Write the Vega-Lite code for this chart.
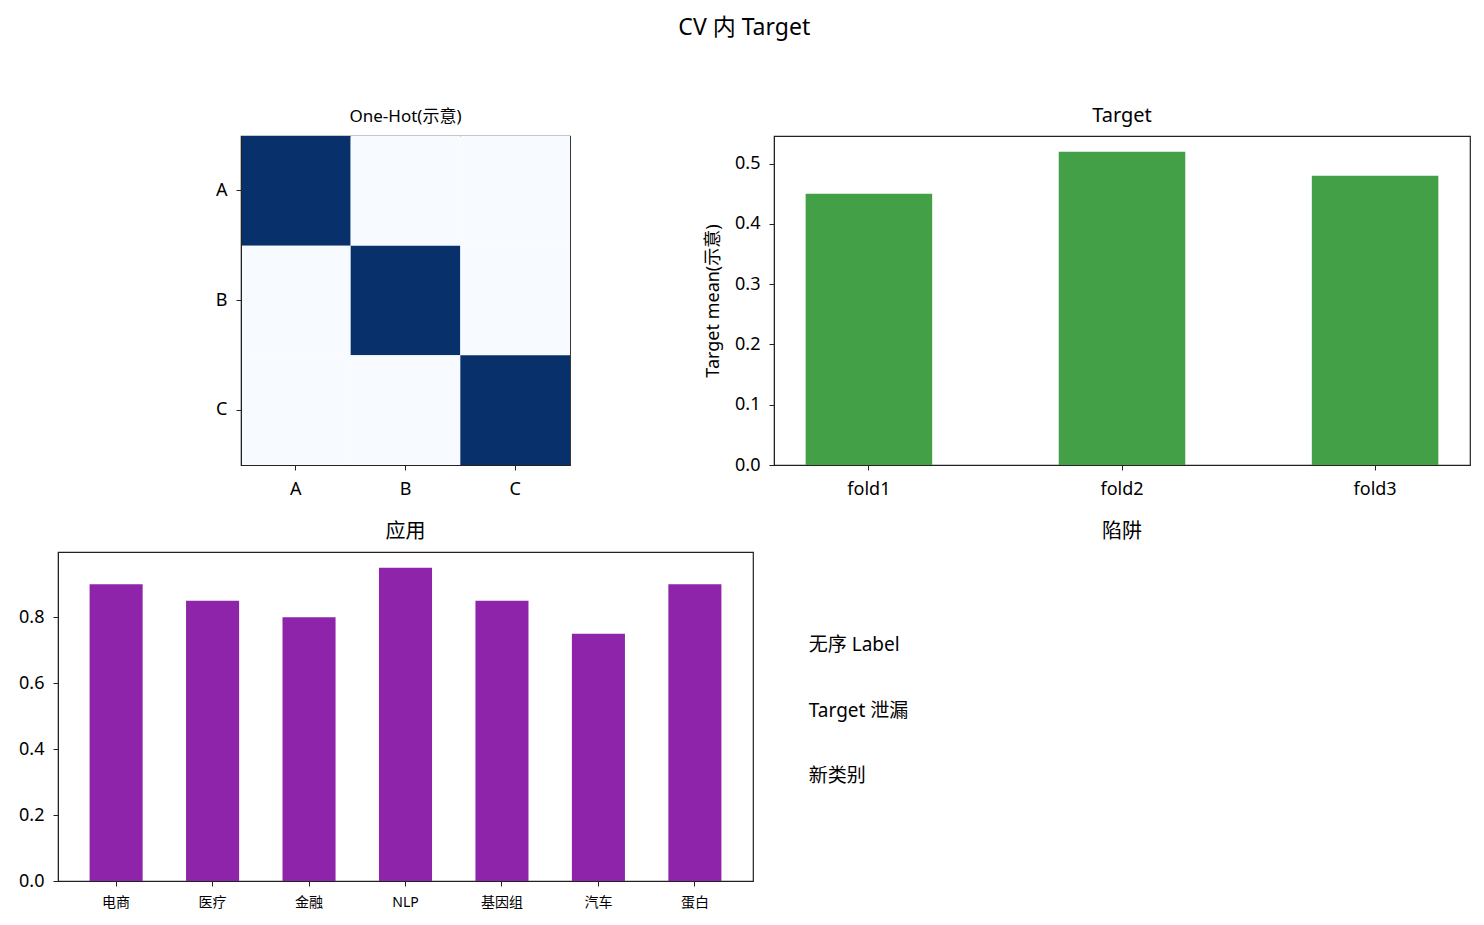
{
  "$schema": "https://vega.github.io/schema/vega-lite/v6.json",
  "padding": {"left": 17, "top": 17, "right": 12, "bottom": 5},
  "background": "white",
  "title": {
    "text": "CV 内 Target",
    "fontSize": 23,
    "fontWeight": "normal",
    "anchor": "middle",
    "color": "#000",
    "offset": 65
  },
  "columns": 2,
  "align": "each",
  "bounds": "flush",
  "center": true,
  "spacing": {"column": 21, "row": 87},
  "concat": [
    {
      "width": 329,
      "height": 329,
      "title": {"text": "One-Hot(示意)", "fontSize": 17, "offset": 10},
      "data": {
        "values": [
          {"row": "A", "col": "A", "v": 1},
          {"row": "A", "col": "B", "v": 0},
          {"row": "A", "col": "C", "v": 0},
          {"row": "B", "col": "A", "v": 0},
          {"row": "B", "col": "B", "v": 1},
          {"row": "B", "col": "C", "v": 0},
          {"row": "C", "col": "A", "v": 0},
          {"row": "C", "col": "B", "v": 0},
          {"row": "C", "col": "C", "v": 1}
        ]
      },
      "mark": {"type": "rect"},
      "encoding": {
        "x": {
          "field": "col",
          "type": "nominal",
          "scale": {"paddingInner": 0, "paddingOuter": 0},
          "axis": {"title": null, "labelAngle": 0, "labelPadding": 10}
        },
        "y": {
          "field": "row",
          "type": "nominal",
          "scale": {"paddingInner": 0, "paddingOuter": 0},
          "axis": {"title": null}
        },
        "color": {
          "field": "v",
          "type": "quantitative",
          "scale": {"domain": [0, 1], "range": ["#f7fbff", "#08306b"]},
          "legend": null
        }
      }
    },
    {
      "width": 696,
      "height": 329,
      "title": {"text": "Target", "fontSize": 20, "offset": 10},
      "data": {
        "values": [
          {"fold": "fold1", "mean": 0.45},
          {"fold": "fold2", "mean": 0.52},
          {"fold": "fold3", "mean": 0.48}
        ]
      },
      "mark": {"type": "bar", "color": "#43a047"},
      "encoding": {
        "x": {
          "field": "fold",
          "type": "nominal",
          "scale": {"paddingInner": 0.5, "paddingOuter": 0.125},
          "axis": {"title": null, "labelAngle": 0, "labelPadding": 10}
        },
        "y": {
          "field": "mean",
          "type": "quantitative",
          "scale": {"domain": [0, 0.546], "nice": false},
          "axis": {
            "title": "Target mean(示意)",
            "titlePadding": 12,
            "values": [0, 0.1, 0.2, 0.3, 0.4, 0.5],
            "format": ".1f"
          }
        }
      }
    },
    {
      "width": 695,
      "height": 329,
      "title": {"text": "应用", "fontSize": 20, "offset": 10},
      "data": {
        "values": [
          {"domain": "电商", "score": 0.9},
          {"domain": "医疗", "score": 0.85},
          {"domain": "金融", "score": 0.8},
          {"domain": "NLP", "score": 0.95},
          {"domain": "基因组", "score": 0.85},
          {"domain": "汽车", "score": 0.75},
          {"domain": "蛋白", "score": 0.9}
        ]
      },
      "mark": {"type": "bar", "color": "#8e24aa"},
      "encoding": {
        "x": {
          "field": "domain",
          "type": "nominal",
          "sort": null,
          "scale": {"paddingInner": 0.45, "paddingOuter": 0.3275},
          "axis": {"title": null, "labelAngle": 0, "labelFontSize": 14, "labelPadding": 9}
        },
        "y": {
          "field": "score",
          "type": "quantitative",
          "scale": {"domain": [0, 0.9975], "nice": false},
          "axis": {
            "title": null,
            "values": [0, 0.2, 0.4, 0.6, 0.8],
            "format": ".1f"
          }
        }
      }
    },
    {
      "width": 696,
      "height": 329,
      "view": {"stroke": null},
      "title": {"text": "陷阱", "fontSize": 20, "offset": 10},
      "data": {
        "values": [
          {"item": "无序 Label"},
          {"item": "Target 泄漏"},
          {"item": "新类别"}
        ]
      },
      "mark": {"type": "text", "align": "left", "baseline": "alphabetic", "fontSize": 19, "color": "#000"},
      "encoding": {
        "x": {
          "datum": 0.05,
          "type": "quantitative",
          "scale": {"domain": [0, 1]},
          "axis": null
        },
        "y": {
          "field": "item",
          "type": "nominal",
          "sort": null,
          "scale": {"type": "band", "paddingInner": 0, "paddingOuter": 1},
          "axis": null
        },
        "text": {"field": "item"}
      }
    }
  ],
  "config": {
    "font": "Noto Sans, Noto Sans CJK SC",
    "view": {"stroke": "#222", "strokeWidth": 1.2},
    "title": {"fontWeight": "normal", "color": "#000"},
    "axis": {
      "grid": false,
      "labelFontSize": 18,
      "labelColor": "#000",
      "titleFontSize": 18,
      "titleFontWeight": "normal",
      "titleColor": "#000",
      "tickColor": "#222",
      "domainColor": "#222",
      "tickSize": 5,
      "labelPadding": 9
    }
  }
}
